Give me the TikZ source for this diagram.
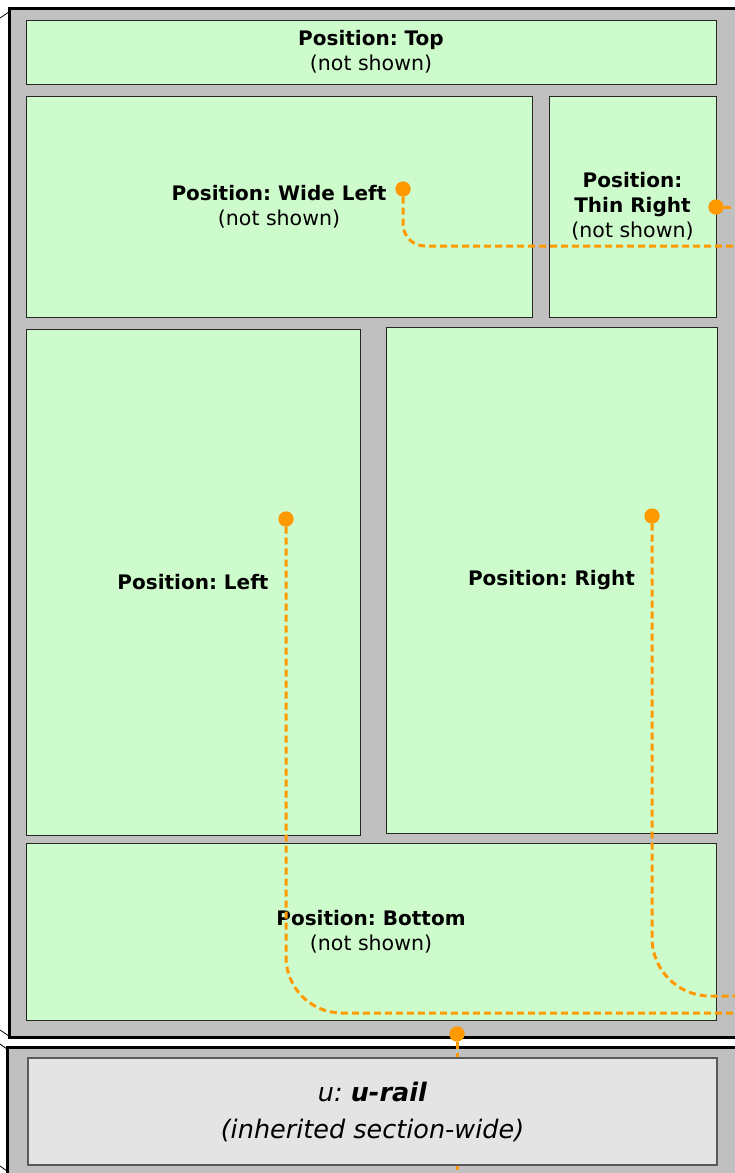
\documentclass[tikz,border=0pt]{standalone}
\usepackage{fontspec}
\setmainfont{DejaVu Sans}
\frenchspacing
\definecolor{framegray}{RGB}{192,192,192}
\definecolor{boxgreen}{RGB}{206,251,204}
\definecolor{railfill}{RGB}{228,228,228}
\definecolor{railline}{RGB}{90,90,90}
\definecolor{connorange}{RGB}{255,153,0}
\newcommand{\boldline}[1]{{\fontsize{20}{25}\selectfont\bfseries #1}}
\tikzset{
  frame/.style={fill=framegray, draw=black, line width=3pt},
  posbox/.style={rectangle, fill=boxgreen, draw=black!85, line width=1pt, inner sep=0pt, align=center,
    font=\fontsize{20.5}{25}\selectfont},
  railbox/.style={rectangle, fill=railfill, draw=railline, line width=1.5pt, inner sep=0pt, align=center,
    font=\fontsize{25.5}{37}\selectfont},
  conn/.style={draw=connorange, line width=3pt, dash pattern=on 7pt off 4pt},
  dotmark/.style={circle, fill=connorange, inner sep=0pt, minimum size=15pt},
  tick/.style={draw=black, line width=0.8pt}
}
\begin{document}
\begin{tikzpicture}[x=1pt,y=-1pt]
\useasboundingbox (0,0) rectangle (735,1173);
\clip (0,0) rectangle (735,1173);
\fill[white] (0,0) rectangle (735,1173);
% frames
\draw[frame] (9,8) rectangle (760,1037);
\draw[frame] (7,1047) rectangle (760,1190);
\draw[tick] (0,18) -- (9,12);
\draw[tick] (0,1030) -- (9,1036);
\draw[tick] (0,1044) -- (7,1049);
\draw[tick] (0,1166) -- (7,1171);
% position boxes
\node[posbox, minimum width=690pt, minimum height=64pt] (top) at (371,52)
  {\boldline{Position: Top}\\(not shown)};
\node[posbox, minimum width=506pt, minimum height=221pt] (wideleft) at (279,206.5)
  {\boldline{Position: Wide Left}\\(not shown)};
\node[posbox, minimum width=167pt, minimum height=221pt] (thinright) at (632.5,206.5)
  {\boldline{Position:}\\\boldline{Thin Right}\\(not shown)};
\node[posbox, minimum width=334pt, minimum height=506pt] (left) at (193,582)
  {\boldline{Position: Left}};
\node[posbox, minimum width=331pt, minimum height=506pt] (right) at (551.5,580)
  {\boldline{Position: Right}};
\node[posbox, minimum width=690pt, minimum height=177pt] (bottom) at (371,931.5)
  {\boldline{Position: Bottom}\\(not shown)};
% dots and connector ends
\node[dotmark] (dWL) at (403,189) {};
\node[dotmark] (dTR) at (716,207) {};
\node[dotmark] (dL) at (286,519) {};
\node[dotmark] (dR) at (652,516) {};
\node[dotmark] (dB) at (457,1034) {};
\coordinate (eWL) at (740,246);
\coordinate (eTR) at (740,207);
\coordinate (eL) at (740,1013);
\coordinate (eR) at (740,996);
\coordinate (eB) at (457,1180);
% bottom connector runs behind the rail box
\draw[conn] (dB) -- (eB);
\node[railbox, minimum width=689pt, minimum height=107pt] (rail) at (372.5,1111.5)
  {\textit{u: \textbf{u-rail}}\\\textit{(inherited section-wide)}};
% connectors
\draw[conn, rounded corners=22pt] (dWL) -- (403,246) -- (eWL);
\draw[conn] (dTR) -- (eTR);
\draw[conn, rounded corners=56pt] (dL) -- (286,1013) -- (eL);
\draw[conn, rounded corners=58pt] (dR) -- (652,996) -- (eR);
% redraw dots on top
\fill[connorange] (dWL) circle (7.5pt) (dTR) circle (7.5pt) (dL) circle (7.5pt) (dR) circle (7.5pt) (dB) circle (7.5pt);
\end{tikzpicture}
\end{document}
